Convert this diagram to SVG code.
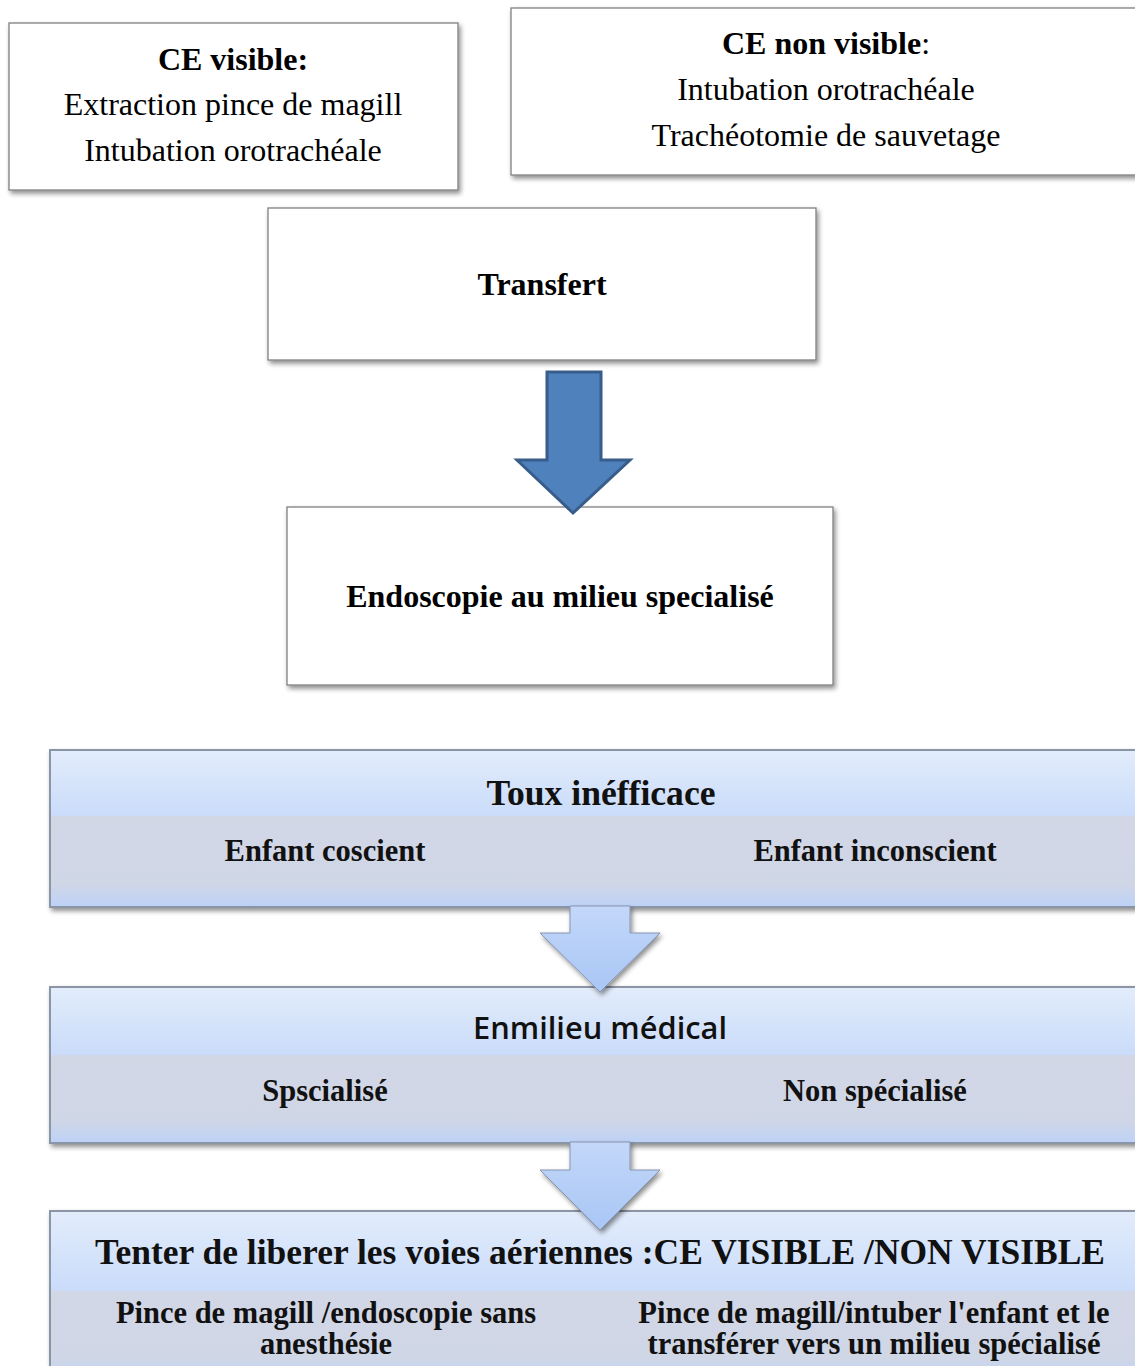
<svg xmlns="http://www.w3.org/2000/svg" width="1135" height="1366" viewBox="0 0 1135 1366">
<style>
.box{fill:#fff;stroke:#808080;stroke-width:1.3}
.t{font-family:"Liberation Serif",serif;fill:#000;text-anchor:middle;font-size:32px}
.b{font-weight:bold}
.bt{font-family:"Liberation Serif",serif;font-weight:bold;fill:#111;text-anchor:middle}
.sub{font-size:30.5px}
.frame{fill:none;stroke:#8a95a6;stroke-width:2}
</style>
<defs>
<filter id="sh" x="-5%" y="-5%" width="115%" height="120%">
<feGaussianBlur in="SourceAlpha" stdDeviation="2.5"/>
<feOffset dx="2" dy="3" result="o"/>
<feComponentTransfer><feFuncA type="linear" slope="0.45"/></feComponentTransfer>
<feMerge><feMergeNode/><feMergeNode in="SourceGraphic"/></feMerge>
</filter>
<linearGradient id="hdr" x1="0" y1="0" x2="0" y2="1">
<stop offset="0" stop-color="#e2ecfb"/>
<stop offset="1" stop-color="#cadcfa"/>
</linearGradient>
<linearGradient id="mid" x1="0" y1="0" x2="0" y2="1">
<stop offset="0" stop-color="#d2d7e6"/>
<stop offset="0.75" stop-color="#cfd6e6"/>
<stop offset="1" stop-color="#bdd2f8"/>
</linearGradient>
<linearGradient id="chev" x1="0" y1="0" x2="0" y2="1">
<stop offset="0" stop-color="#c3d7f9"/>
<stop offset="1" stop-color="#a9c6f5"/>
</linearGradient>
</defs>

<g id="node-ce-visible">
<rect class="box" x="9" y="23" width="449" height="167" filter="url(#sh)"/>
<text class="t b" x="233" y="70">CE visible:</text>
<text class="t" x="233" y="115">Extraction pince de magill</text>
<text class="t" x="233" y="161">Intubation orotrachéale</text>
</g>

<g id="node-ce-non-visible">
<rect class="box" x="511" y="8" width="640" height="167" filter="url(#sh)"/>
<text class="t" x="826" y="54"><tspan font-weight="bold">CE non visible</tspan>:</text>
<text class="t" x="826" y="100">Intubation orotrachéale</text>
<text class="t" x="826" y="146">Trachéotomie de sauvetage</text>
</g>

<g id="node-transfert">
<rect class="box" x="268" y="208" width="548" height="152" filter="url(#sh)"/>
<text class="t b" x="542" y="295">Transfert</text>
</g>

<g id="node-endoscopie">
<rect class="box" x="287" y="507" width="546" height="178" filter="url(#sh)"/>
<text class="t b" x="560" y="607">Endoscopie au milieu specialisé</text>
</g>

<g id="band-toux">
<g filter="url(#sh)">
<rect x="50" y="750" width="1100" height="66" fill="url(#hdr)"/>
<rect x="50" y="816" width="1100" height="91" fill="url(#mid)"/>
<rect class="frame" x="50" y="750" width="1100" height="157"/>
</g>
<text class="bt" x="601" y="805" font-size="35" textLength="229" lengthAdjust="spacingAndGlyphs">Toux inéfficace</text>
<text class="bt sub" x="325" y="861">Enfant coscient</text>
<text class="bt sub" x="875" y="861">Enfant inconscient</text>
</g>

<g id="band-milieu">
<g filter="url(#sh)">
<rect x="50" y="987" width="1100" height="68" fill="url(#hdr)"/>
<rect x="50" y="1055" width="1100" height="88" fill="url(#mid)"/>
<rect class="frame" x="50" y="987" width="1100" height="156"/>
</g>
<text x="600" y="1039" font-size="31" font-weight="600" font-family="'Open Sans',Lato,sans-serif" fill="#111" text-anchor="middle" textLength="254" lengthAdjust="spacingAndGlyphs">Enmilieu médical</text>
<text class="bt sub" x="325" y="1101">Spscialisé</text>
<text class="bt sub" x="875" y="1101">Non spécialisé</text>
</g>

<g id="band-tenter">
<g filter="url(#sh)">
<rect x="50" y="1211" width="1100" height="80" fill="url(#hdr)"/>
<rect x="50" y="1291" width="1100" height="90" fill="url(#mid)"/>
<rect class="frame" x="50" y="1211" width="1100" height="170"/>
</g>
<text class="bt" x="600" y="1264" font-size="35" textLength="1010" lengthAdjust="spacingAndGlyphs">Tenter de liberer les voies aériennes :CE VISIBLE /NON VISIBLE</text>
<text class="bt sub" x="326" y="1323">Pince de magill /endoscopie sans</text>
<text class="bt sub" x="326" y="1354">anesthésie</text>
<text class="bt sub" x="874" y="1323">Pince de magill/intuber l'enfant et le</text>
<text class="bt sub" x="874" y="1354">transférer vers un milieu spécialisé</text>
</g>

<g id="connectors">
<path d="M547,372 H601 V460 H630 L573,513 L517,460 H547 Z" fill="#4f81bd" stroke="#385d8a" stroke-width="3" stroke-linejoin="miter"/>
<path d="M570,906 H630 V933 H660 L600,992 L540,933 H570 Z" fill="url(#chev)" stroke="#8595b0" stroke-width="1" filter="url(#sh)"/>
<path d="M570,1142 H630 V1170 H660 L600,1230 L540,1170 H570 Z" fill="url(#chev)" stroke="#8595b0" stroke-width="1" filter="url(#sh)"/>
</g>
</svg>
